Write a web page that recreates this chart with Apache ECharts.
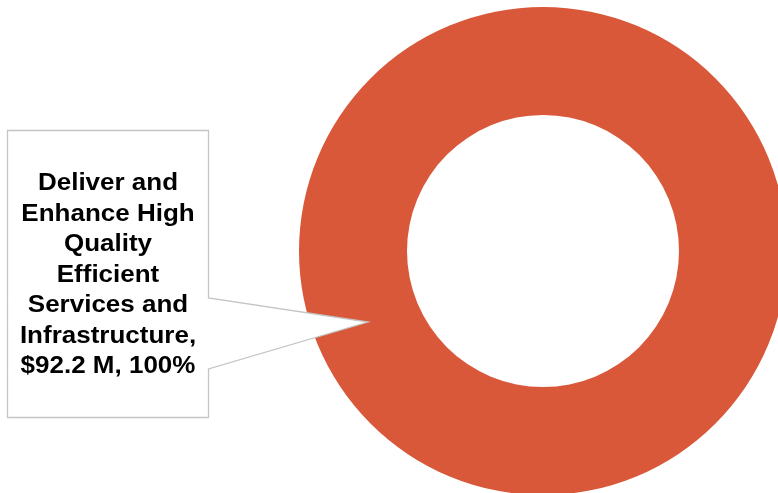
<!DOCTYPE html>
<html>
<head>
<meta charset="utf-8">
<script src="https://cdn.jsdelivr.net/npm/echarts@6/dist/echarts.min.js"></script>
<style>
html,body{margin:0;padding:0;background:#fff;}
#chart{width:778px;height:493px;}
</style>
</head>
<body>
<div id="chart"></div>
<script>
var categories = ["Deliver and\nEnhance High\nQuality\nEfficient\nServices and\nInfrastructure"];
var amounts = [92.2];          // $ M
var percents = ["100%"];
var colors = ["#D95839"];

var chart = echarts.init(document.getElementById('chart'), null, {renderer: 'canvas'});

var labelText = categories[0] + ",\n$" + amounts[0].toFixed(1) + " M, " + percents[0];

chart.setOption({
  animation: false,
  backgroundColor: '#ffffff',
  series: [{
    type: 'pie',
    z: 1,
    center: [543, 251],
    radius: [136, 244],
    startAngle: 90,
    silent: true,
    label: {show: false},
    labelLine: {show: false},
    itemStyle: {borderWidth: 0},
    data: categories.map(function (c, i) {
      return {name: c, value: amounts[i], itemStyle: {color: colors[i]}};
    })
  }],
  graphic: [
    {
      type: 'polygon',
      z: 10,
      silent: true,
      shape: {
        points: [[7.5,130.5],[208.5,130.5],[208.5,298],[368,322],[208.5,369],[208.5,417.5],[7.5,417.5]]
      },
      style: {fill: '#ffffff', stroke: '#c4c4c4', lineWidth: 1.3}
    },
    {
      type: 'text',
      z: 11,
      silent: true,
      x: 108,
      y: 275.5,
      scaleX: 1.13,
      style: {
        text: labelText,
        fill: '#000000',
        font: 'bold 23px "Liberation Sans", Arial, sans-serif',
        lineHeight: 30.45,
        align: 'center',
        verticalAlign: 'middle'
      }
    }
  ]
});
</script>
</body>
</html>
